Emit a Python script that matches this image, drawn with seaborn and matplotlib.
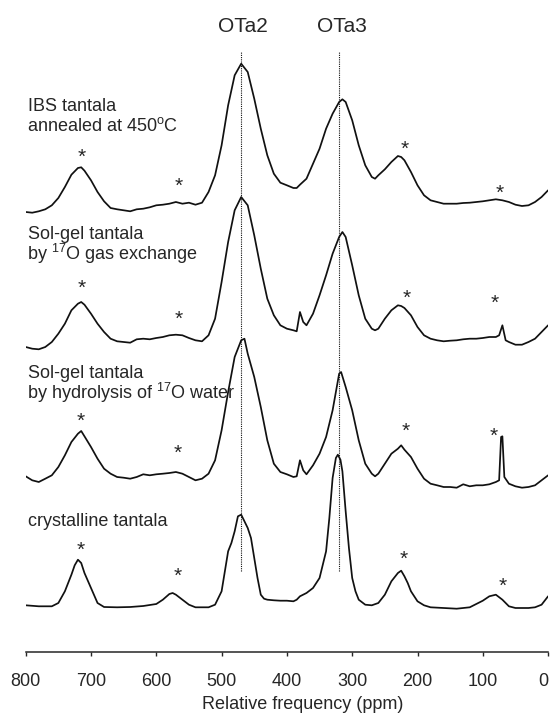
import numpy as np
import pandas as pd
import matplotlib
matplotlib.use("Agg")
import matplotlib.pyplot as plt
import seaborn as sns

sns.set_style("ticks")
plt.rcParams['font.family'] = ['Liberation Sans', 'DejaVu Sans']
plt.rcParams['mathtext.fontset'] = 'custom'
plt.rcParams['mathtext.rm'] = 'Liberation Sans'
plt.rcParams['mathtext.it'] = 'Liberation Sans:italic'
plt.rcParams['mathtext.bf'] = 'Liberation Sans:bold'

# ---------------- data (ppm, intensity above each trace's baseline) -------------
ibs_ppm = [800, 790, 780, 770, 760, 750, 740, 730, 720, 715, 710, 700, 690, 680, 670, 660,
           650, 640, 630, 620, 610, 600, 590, 580, 570, 560, 550, 540, 530, 520, 510, 500,
           490, 480, 470, 460, 450, 440, 430, 420, 410, 400, 390, 385, 380, 370, 360, 350,
           340, 330, 320, 315, 310, 300, 290, 280, 270, 265, 260, 250, 240, 230, 225, 220,
           210, 200, 190, 180, 170, 160, 150, 140, 130, 120, 110, 100, 90, 80, 70, 60, 50,
           40, 30, 20, 10, 0]
ibs_int = [0, -0.7, 0.7, 2.7, 6.7, 14.0, 25.0, 37.3, 44.0, 44.7, 41.3, 31.7, 20.0, 10.7, 4.0, 2.7,
           1.7, 0.7, 2.7, 3.3, 4.7, 6.7, 7.3, 8.3, 10.0, 8.3, 9.3, 7.3, 9.3, 20.0, 36.7, 66.7,
           106.7, 136.7, 148.3, 140.0, 113.3, 83.3, 56.7, 38.3, 29.3, 26.7, 24.0, 24.0, 27.3, 33.3, 48.3, 63.3,
           83.3, 98.3, 110.0, 112.7, 110.0, 91.7, 66.7, 46.7, 35.0, 33.3, 36.7, 42.7, 50.0, 56.0, 55.0, 51.7,
           40.0, 26.7, 16.7, 11.7, 10.0, 8.3, 8.3, 8.3, 9.0, 9.3, 10.0, 10.7, 11.7, 12.7, 11.7, 10.0, 7.3,
           6.0, 6.7, 10.0, 15.0, 21.7]

gas_ppm = [800, 790, 780, 770, 760, 750, 740, 730, 720, 715, 710, 700, 690, 680, 670, 660,
           650, 640, 630, 620, 610, 600, 590, 580, 570, 560, 550, 540, 530, 520, 510, 500,
           490, 480, 470, 460, 450, 440, 430, 420, 410, 400, 390, 385, 380, 375, 370, 360,
           350, 340, 330, 320, 315, 310, 300, 290, 280, 270, 265, 260, 250, 240, 230, 225,
           220, 210, 200, 190, 180, 170, 160, 150, 140, 130, 120, 110, 100, 90, 80, 75, 70,
           65, 60, 50, 40, 30, 20, 10, 0]
gas_int = [0, -1.7, -2.3, 0, 5.0, 13.3, 23.3, 36.7, 43.3, 45.0, 42.3, 33.3, 23.3, 15.0, 8.3, 5.7,
           5.0, 4.3, 7.7, 8.3, 7.7, 9.0, 10.0, 11.7, 12.3, 11.7, 9.0, 6.7, 5.7, 11.7, 28.3, 65.0,
           105.0, 136.7, 150.0, 141.7, 111.7, 78.3, 48.3, 31.7, 21.7, 18.3, 16.7, 15.7, 35.0, 25.0, 21.7, 33.3,
           51.7, 71.7, 93.3, 110.0, 115.0, 110.0, 81.7, 51.7, 28.3, 18.3, 16.7, 18.3, 28.3, 36.7, 41.7, 41.0,
           39.0, 31.7, 20.0, 11.7, 8.3, 6.7, 5.7, 6.3, 6.7, 7.7, 8.3, 8.3, 9.0, 10.0, 10.0, 11.7, 21.7,
           6.7, 5.0, 2.3, 2.3, 5.0, 8.3, 15.0, 21.7]

hyd_ppm = [800, 790, 780, 770, 760, 750, 740, 730, 720, 715, 710, 700, 690, 680, 670, 660,
           650, 640, 630, 620, 610, 600, 590, 580, 570, 560, 550, 540, 530, 520, 510, 500,
           490, 480, 470, 465, 460, 450, 440, 430, 420, 410, 400, 390, 385, 380, 375, 370,
           360, 350, 340, 330, 320, 317, 310, 300, 290, 280, 270, 265, 260, 250, 240, 230,
           225, 220, 210, 200, 190, 180, 170, 160, 150, 140, 130, 120, 110, 100, 90, 80, 75,
           72, 70, 67, 60, 50, 40, 30, 20, 10, 0]
hyd_int = [0.7, -3.3, -5.0, -1.7, 1.7, 10.0, 21.7, 35.0, 43.3, 46.0, 40.7, 30.0, 18.3, 8.3, 3.3, 0,
           -0.7, -1.7, 0, 2.7, 1.7, 2.7, 3.3, 4.0, 5.0, 3.3, 0, -3.3, -1.7, 3.3, 16.7, 46.7,
           85.0, 120.0, 136.7, 138.3, 123.3, 100.0, 70.0, 36.7, 13.3, 5.0, 2.7, 0, 0.7, 16.7, 6.7, 2.7,
           11.7, 23.3, 40.0, 66.7, 103.3, 105.0, 90.0, 66.7, 36.7, 13.3, 3.3, 0.7, 3.3, 13.3, 23.3, 28.3,
           31.7, 27.3, 20.0, 8.3, -1.7, -6.7, -8.3, -10.0, -10.0, -10.7, -7.3, -9.3, -8.3, -8.3, -7.3, -5.0, -3.3,
           40.0, 40.7, 0, -6.7, -9.3, -10.7, -10.0, -8.3, -3.3, 1.7]

cry_ppm = [800, 780, 760, 750, 740, 730, 725, 720, 715, 710, 700, 690, 680, 660, 640, 620,
           600, 590, 580, 575, 570, 560, 550, 540, 520, 510, 500, 495, 490, 485, 480, 475,
           470, 465, 460, 455, 450, 445, 440, 435, 430, 420, 410, 400, 390, 385, 380, 370,
           360, 350, 340, 335, 330, 325, 322, 318, 315, 310, 305, 300, 295, 290, 280, 270,
           260, 250, 240, 230, 225, 220, 215, 210, 200, 190, 180, 160, 140, 120, 100, 90,
           80, 70, 60, 50, 40, 30, 20, 10, 0]
cry_int = [0.7, -0.3, -0.3, 3.0, 14.7, 31.3, 40.7, 46.3, 43.0, 33.0, 18.0, 3.0, -1.0, -1.3, -1.0, 0,
           2.0, 6.3, 12.0, 13.0, 11.3, 6.3, 1.3, -1.3, -1.3, 1.3, 14.7, 34.7, 54.7, 63.0, 74.7, 89.7,
           91.3, 84.7, 78.0, 68.0, 48.0, 28.0, 11.3, 7.3, 6.3, 5.7, 5.3, 5.3, 4.7, 6.3, 9.7, 13.0,
           18.0, 28.0, 54.7, 88.0, 128.0, 148.0, 151.3, 146.3, 134.7, 94.7, 58.0, 28.0, 14.7, 6.3, 1.3, 0.7,
           3.0, 11.3, 24.7, 33.0, 35.3, 29.7, 23.0, 14.7, 4.7, 0.7, -1.3, -2.0, -2.7, -1.3, 5.3, 9.7,
           11.3, 6.3, -0.3, -2.0, -2.0, -2.0, -1.3, 1.3, 9.7]

trace_names = ["IBS", "gas", "hydrolysis", "crystalline"]
trace_ppm = [ibs_ppm, gas_ppm, hyd_ppm, cry_ppm]
trace_int = [ibs_int, gas_int, hyd_int, cry_int]

label_lines = [
    ["IBS tantala", r"annealed at 450$^{\mathrm{o}}$C"],
    ["Sol-gel tantala", r"by $^{17}$O gas exchange"],
    ["Sol-gel tantala", r"by hydrolysis of $^{17}$O water"],
    ["crystalline tantala"],
]
site_labels = ["OTa2", "OTa3"]
site_ppm = [470, 320]
sideband_ppm = [[715, 565, 220, 74], [714, 565, 216, 82], [716, 568, 218, 83], [716, 567, 221, 70]]
ticks = [800, 700, 600, 500, 400, 300, 200, 100, 0]

# ---------------- layout (vertical stacking offsets, pixel-like units) ----------
offsets = [440, 305, 175, 46]
label_y = [[541.3, 521.3], [413, 392.5], [274, 253], [126.5]]
sideband_y = [[501.3, 472.3, 509.3, 465.3], [370.3, 339.3, 360.3, 355.3],
              [237, 205.3, 227, 222], [108, 82, 98.7, 72]]

rows = []
for name, xs, ys, off in zip(trace_names, trace_ppm, trace_int, offsets):
    for x, y in zip(xs, ys):
        rows.append({"ppm": x, "y": y + off, "trace": name})
df = pd.DataFrame(rows)

fig = plt.figure(figsize=(5.5, 7.13), dpi=100)
ax = fig.add_axes([25.7 / 550, 61 / 713, 522.4 / 550, 652 / 713])

sns.lineplot(data=df, x="ppm", y="y", hue="trace", units="trace", estimator=None,
             sort=False, palette=["#111111"] * 4, linewidth=1.25, legend=False, ax=ax)

for sp in site_ppm:
    ax.plot([sp, sp], [81, 600.3], color="#111111", lw=0.8, ls=(0, (1, 1)))
ax.text(468, 620.3, site_labels[0], ha="center", va="baseline", fontsize=15)
ax.text(316, 620.3, site_labels[1], ha="center", va="baseline", fontsize=15)

for lines, ys in zip(label_lines, label_y):
    for i, (t, yy) in enumerate(zip(lines, ys)):
        ax.text(796 if i == 0 else 797.5, yy, t, ha="left", va="baseline", fontsize=13)

fs_ast = 15
for xs, ys in zip(sideband_ppm, sideband_y):
    for x, y in zip(xs, ys):
        ax.annotate("*", xy=(x, y), xytext=(0, -0.57 * fs_ast), textcoords="offset points",
                    ha="center", va="baseline", fontsize=fs_ast)

ax.set_xlim(800, 0)
ax.set_ylim(0, 652)
ax.set_xticks(ticks)
ax.set_xticklabels([str(t) for t in ticks])
ax.tick_params(axis="x", direction="out", length=3, width=1, pad=12.3, labelsize=13)
ax.get_xticklabels()[-1].set_ha("right")
ax.set_yticks([])
for s in ["left", "right", "top"]:
    ax.spines[s].set_visible(False)
ax.spines["bottom"].set_linewidth(1.1)
ax.set_xlabel("Relative frequency (ppm)", fontsize=13, va="baseline")
ax.xaxis.set_label_coords(0.53, -0.0879)
ax.set_ylabel("")
ax.patch.set_alpha(0)

fig.savefig("out.png", dpi=100)
